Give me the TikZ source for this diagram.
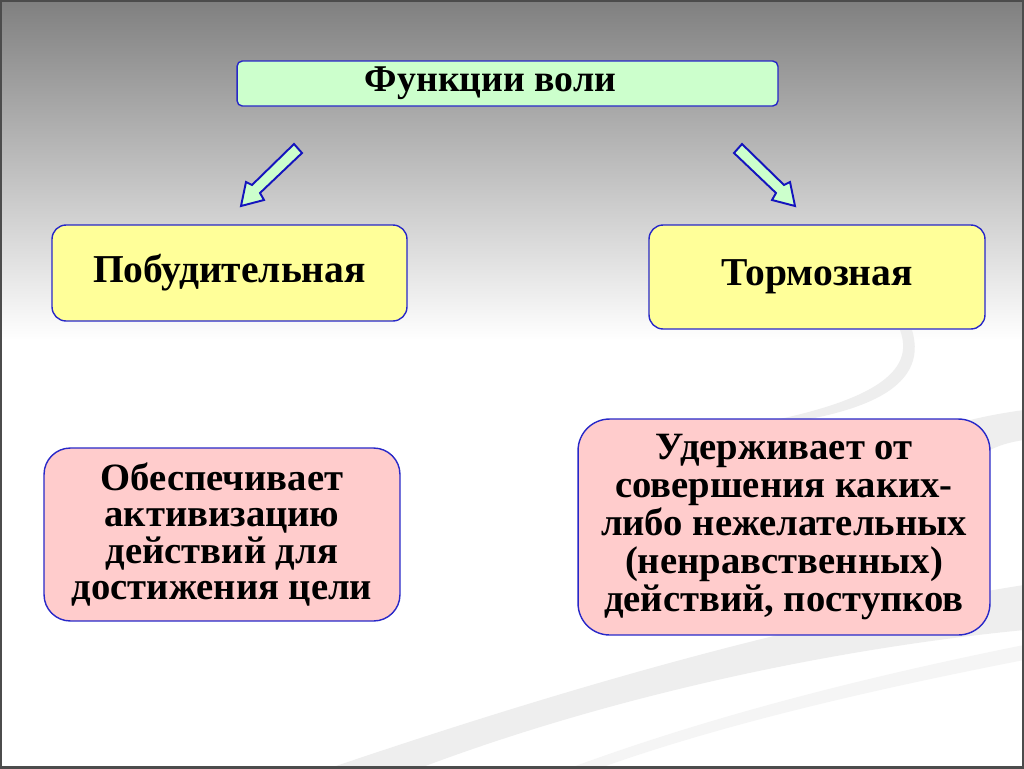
\documentclass[tikz,border=0pt]{standalone}
\usepackage{fontspec}
\setmainfont{Liberation Serif}
\definecolor{bgtop}{gray}{0.5}
\definecolor{boxline}{RGB}{40,40,200}
\definecolor{arrline}{RGB}{20,20,190}
\definecolor{mint}{RGB}{204,255,204}
\definecolor{lemon}{RGB}{255,255,153}
\definecolor{rose}{RGB}{255,204,204}
\begin{document}
\begin{tikzpicture}[x=0.02cm,y=-0.02cm,
  box/.style={draw=boxline, line width=0.8pt, inner sep=0pt, align=center},
  titlebox/.style={box, fill=mint, rounded corners=3pt, minimum width=10.82cm, minimum height=0.9cm,
    font=\bfseries\fontsize{21.5}{22}\selectfont},
  kindbox/.style={box, fill=lemon, rounded corners=8pt, font=\bfseries\fontsize{22.5}{23}\selectfont},
  descbox/.style={box, fill=rose, rounded corners=15pt},
  blockarrow/.style={draw=arrline, fill=mint, line width=1.1pt, line join=miter},
  swoosh/.style={draw=none, fill=gray!13}]
\useasboundingbox (0,0) rectangle (1024,768);
% background
\shade[top color=bgtop, bottom color=white] (0,0) rectangle (1024,340);
\fill[white] (0,339) rectangle (1024,768);
% swooshes
\fill[swoosh] (900,330) .. controls (915,370) and (880,405) .. (720,430)
  .. controls (860,420) and (930,390) .. (912,330) -- cycle;
\fill[swoosh] (1024,410) .. controls (950,420) and (900,440) .. (860,470)
  -- (990,450) .. controls (1000,445) and (1010,442) .. (1024,440) -- cycle;
\fill[swoosh] (1024,585) .. controls (800,620) and (560,690) .. (330,768)
  -- (420,768) .. controls (600,700) and (820,650) .. (1024,630) -- cycle;
\fill[gray!8] (1024,645) .. controls (850,680) and (700,720) .. (570,768)
  -- (600,768) .. controls (720,725) and (870,690) .. (1024,660) -- cycle;
% frame
\draw[gray!60!black, line width=1.2pt] (0.5,0.5) rectangle (1023.5,767.5);
% nodes
\node[titlebox] (title) at (507.5,83.5) {Функции воли\hspace*{0.68cm}};
\node[kindbox, minimum width=7.1cm, minimum height=1.92cm] (push) at (229.5,273) {Побудительная};
\node[kindbox, minimum width=6.72cm, minimum height=2.08cm] (brake) at (817,277) {Тормозная};
\node[descbox, minimum width=7.12cm, minimum height=3.46cm, font=\bfseries\fontsize{22}{20.6}\selectfont]
  (pushdesc) at (222,534.5)
  {Обеспечивает\\активизацию\\действий для\\достижения цели};
\node[descbox, rounded corners=18pt, minimum width=8.24cm, minimum height=4.32cm,
  font=\bfseries\fontsize{22}{21.6}\selectfont] (brakedesc) at (784,527)
  {Удерживает от\\совершения каких-\\либо нежелательных\\(ненравственных)\\действий, поступков};
% block arrows
\draw[blockarrow] (294,144) -- (302,153) -- (260,193) -- (264,200) -- (241,206) -- (246,182) -- (252,185) -- cycle;
\draw[blockarrow] (742,144) -- (734,153) -- (776,193) -- (772,200) -- (795,206) -- (790,182) -- (784,185) -- cycle;
\end{tikzpicture}
\end{document}
